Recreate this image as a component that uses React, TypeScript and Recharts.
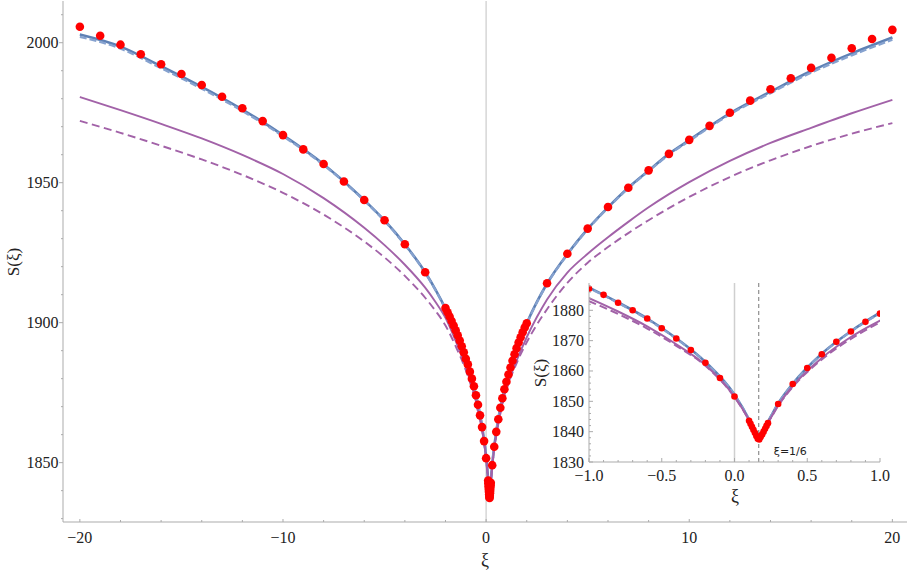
import React from "react"
import { ComposedChart, Line, Scatter, XAxis, YAxis, ReferenceLine } from "recharts"

const curveXi = [
  -20, -18, -16, -14, -12, -10, -8, -6, -5, -4, -3, -2.5, -2, -1.5, -1, -0.8, -0.6, -0.4, -0.2, 0,
  0.1, 0.13, 1 / 6, 0.2, 0.25, 0.3, 0.4, 0.6, 0.8, 1, 1.5, 2, 2.5, 3, 4, 5, 6, 7, 8, 9, 10, 12, 14, 16, 18, 20,
]
const blueSolid = [
  2002.9, 1998.6, 1991.6, 1984.2, 1976.1, 1967.0, 1956.6, 1943.8, 1936.5, 1928.0, 1918.0, 1911.9, 1905.0, 1897.0, 1887.5, 1882.6, 1877.3, 1870.8, 1863.0, 1852.2,
  1844.0, 1841.0, 1837.8, 1840.6, 1845.0, 1849.3, 1855.8, 1865.7, 1873.1, 1879.2, 1890.9, 1899.8, 1907.4, 1914.0, 1924.5, 1933.5, 1941.2, 1948.2, 1954.3, 1960.3, 1965.2, 1974.8, 1982.5, 1989.9, 1996.2, 2001.9,
]
const blueDashed = [
  2002.1, 1997.9, 1990.9, 1983.6, 1975.6, 1966.6, 1956.3, 1943.6, 1936.3, 1927.8, 1917.8, 1911.7, 1904.8, 1896.8, 1887.3, 1882.4, 1877.1, 1870.6, 1862.9, 1852.1,
  1844.0, 1841.0, 1837.8, 1840.6, 1845.0, 1849.2, 1855.7, 1865.6, 1873.0, 1879.0, 1890.7, 1899.6, 1907.2, 1913.8, 1924.3, 1933.3, 1941.0, 1948.0, 1954.1, 1960.0, 1964.9, 1974.4, 1982.0, 1989.3, 1995.5, 2001.1,
]
const purpleSolid = [
  1980.6, 1975.9, 1971.0, 1965.8, 1959.9, 1953.1, 1944.5, 1933.9, 1927.7, 1920.7, 1912.5, 1907.5, 1901.7, 1893.5, 1884.0, 1879.6, 1874.7, 1868.8, 1862.0, 1851.5,
  1843.8, 1841.1, 1838.0, 1840.8, 1844.6, 1848.7, 1855.0, 1864.3, 1871.2, 1876.6, 1886.4, 1894.8, 1902.0, 1908.3, 1917.9, 1924.6, 1930.5, 1936.0, 1941.2, 1945.9, 1950.2, 1957.8, 1964.2, 1969.6, 1974.8, 1979.6,
]
const purpleDashed = [
  1972.1, 1967.8, 1963.2, 1958.3, 1952.8, 1946.4, 1938.6, 1929.0, 1923.3, 1916.7, 1908.9, 1904.3, 1899.0, 1891.6, 1883.0, 1878.8, 1874.0, 1868.3, 1861.7, 1851.4,
  1843.8, 1841.1, 1838.0, 1840.8, 1844.5, 1848.5, 1854.7, 1863.8, 1870.6, 1876.0, 1885.5, 1893.0, 1899.3, 1904.8, 1914.2, 1921.4, 1927.0, 1932.0, 1936.6, 1940.9, 1944.9, 1952.0, 1958.0, 1963.1, 1967.5, 1971.3,
]

// simulation points (red dots)
const dotXi = [
  -20, -19, -18, -17, -16, -15, -14, -13, -12, -11, -10, -9, -8, -7, -6, -5, -4, -3,
  -2, -1.9, -1.8, -1.7, -1.6, -1.5, -1.4, -1.3, -1.2, -1.1, -1, -0.9, -0.8, -0.7, -0.6, -0.5, -0.4, -0.3, -0.2, -0.1, 0,
  0.1, 0.11, 0.12, 0.13, 0.14, 0.15, 0.16, 0.17, 0.18, 0.19, 0.2, 0.21, 0.22, 0.23,
  0.3, 0.4, 0.5, 0.6, 0.7, 0.8, 0.9, 1, 1.1, 1.2, 1.3, 1.4, 1.5, 1.6, 1.7, 1.8, 1.9, 2,
  3, 4, 5, 6, 7, 8, 9, 10, 11, 12, 13, 14, 15, 16, 17, 18, 19, 20,
]
const dotS = [
  2005.7, 2002.5, 1999.3, 1995.9, 1992.3, 1988.8, 1984.9, 1980.7, 1976.6, 1972.0, 1967.0, 1961.9, 1956.7, 1950.4, 1943.8, 1936.6, 1928.0, 1918.0,
  1905.2, 1903.7, 1902.2, 1900.6, 1899.0, 1897.3, 1895.5, 1893.6, 1891.6, 1889.4, 1887.1, 1885.1, 1882.5, 1880.0, 1877.3, 1874.1, 1870.7, 1866.9, 1862.7, 1857.7, 1851.6,
  1843.6, 1842.6, 1841.6, 1840.6, 1839.6, 1838.6, 1837.7, 1837.4, 1838.2, 1839.1, 1840.0, 1841.0, 1841.9, 1842.8,
  1849.1, 1855.7, 1861.0, 1865.5, 1869.6, 1873.0, 1876.2, 1878.9, 1881.5, 1884.0, 1886.4, 1888.7, 1890.9, 1892.9, 1894.8, 1896.6, 1898.3, 1899.8,
  1914.1, 1924.6, 1933.6, 1941.3, 1948.2, 1954.4, 1960.3, 1965.3, 1970.3, 1975.0, 1979.3, 1983.4, 1987.3, 1991.0, 1994.6, 1998.0, 2001.3, 2004.6,
]

// tick positions
const mainXTicks = [-20, -18, -16, -14, -12, -10, -8, -6, -4, -2, 0, 2, 4, 6, 8, 10, 12, 14, 16, 18, 20]
const mainYTicks = [1830, 1840, 1850, 1860, 1870, 1880, 1890, 1900, 1910, 1920, 1930, 1940, 1950, 1960, 1970, 1980, 1990, 2000, 2010]
const insetXTicks = [-1, -0.9, -0.8, -0.7, -0.6, -0.5, -0.4, -0.3, -0.2, -0.1, 0, 0.1, 0.2, 0.3, 0.4, 0.5, 0.6, 0.7, 0.8, 0.9, 1]
const insetYTicks = [1830, 1832, 1834, 1836, 1838, 1840, 1842, 1844, 1846, 1848, 1850, 1852, 1854, 1856, 1858, 1860, 1862, 1864, 1866, 1868, 1870, 1872, 1874, 1876, 1878, 1880, 1882, 1884, 1886, 1888]

const zip = (xs: number[], ys: number[]) => xs.map((x, i) => ({ x, y: ys[i] }))
const blueSolidPts = zip(curveXi, blueSolid)
const blueDashedPts = zip(curveXi, blueDashed)
const purpleSolidPts = zip(curveXi, purpleSolid)
const purpleDashedPts = zip(curveXi, purpleDashed)
const dots = zip(dotXi, dotS)
const insetDots = dots.filter((d) => Math.abs(d.x) <= 1.0001)

const BLUE = "#5e81b5"
const BLUE_LIGHT = "#86a2cf"
const PURPLE = "#a262a8"
const RED = "#ff0000"
const FRAME = "#ababab"
const INK = "#222"
const serif = { fontFamily: "'Liberation Serif', 'DejaVu Serif', 'Times New Roman', serif" }

const neg = (s: string) => s.replace("-", "\u2212")
const near = (a: number, b: number) => Math.abs(a - b) < 1e-6

const mainBottomTick = (p: any) => {
  const v = p.payload.value
  const major = near(v % 10, 0)
  return (
    <g>
      <line x1={p.x} x2={p.x} y1={p.y} y2={p.y - (major ? 3 : 2)} stroke={FRAME} />
      {major && (
        <text x={p.x} y={p.y + 21} textAnchor="middle" style={serif} fontSize={16} fill={INK}>
          {neg(String(v))}
        </text>
      )}
    </g>
  )
}
const mainTopTick = (p: any) => <line x1={p.x} x2={p.x} y1={p.y} y2={p.y + 3} stroke={FRAME} />
const mainLeftTick = (p: any) => {
  const v = p.payload.value
  const major = v % 50 === 0
  return (
    <g>
      <line x1={p.x - (major ? 4 : 2)} x2={p.x} y1={p.y} y2={p.y} stroke={FRAME} />
      {major && (
        <text x={p.x - 4.5} y={p.y + 5.5} textAnchor="end" style={serif} fontSize={16} fill={INK}>
          {v}
        </text>
      )}
    </g>
  )
}
const mainRightTick = (p: any) => <line x1={p.x} x2={p.x + 3} y1={p.y} y2={p.y} stroke={FRAME} />

const insetBottomTick = (p: any) => {
  const v = p.payload.value
  const major = near(v * 2, Math.round(v * 2))
  return (
    <g>
      <line x1={p.x} x2={p.x} y1={p.y} y2={p.y - (major ? 4 : 2)} stroke={FRAME} />
      {major && (
        <text x={p.x} y={p.y + 19} textAnchor="middle" style={serif} fontSize={16} fill={INK}>
          {neg(v.toFixed(1))}
        </text>
      )}
    </g>
  )
}
const insetTopTick = (p: any) => {
  const major = near(p.payload.value * 2, Math.round(p.payload.value * 2))
  return <line x1={p.x} x2={p.x} y1={p.y} y2={p.y + (major ? 4 : 2)} stroke={FRAME} />
}
const insetLeftTick = (p: any) => {
  const v = p.payload.value
  const major = v % 10 === 0
  return (
    <g>
      <line x1={p.x} x2={p.x + (major ? 4 : 2)} y1={p.y} y2={p.y} stroke={FRAME} />
      {major && (
        <text x={p.x - 5} y={p.y + 5.5} textAnchor="end" style={serif} fontSize={16} fill={INK}>
          {v}
        </text>
      )}
    </g>
  )
}
const insetRightTick = (p: any) => {
  const major = p.payload.value % 10 === 0
  return <line x1={p.x} x2={p.x - (major ? 4 : 2)} y1={p.y} y2={p.y} stroke={FRAME} />
}

const dotShape = (r: number) => (p: any) => <circle cx={p.cx} cy={p.cy} r={r} fill={RED} />

function MainPlot() {
  return (
    <ComposedChart width={910} height={573} margin={{ top: 1, right: 3, bottom: 0, left: 0 }}>
      <XAxis
        dataKey="x"
        type="number"
        domain={[-20.83, 20.72]}
        allowDataOverflow
        ticks={mainXTicks}
        interval={0}
        height={51}
        tickSize={0}
        tickMargin={0}
        tickLine={false}
        axisLine={{ stroke: FRAME }}
        tick={mainBottomTick}
        label={{
          content: () => (
            <text x={485} y={566} textAnchor="middle" style={serif} fontSize={18} fill={INK}>
              ξ
            </text>
          ),
        }}
      />
      <XAxis
        xAxisId="top"
        orientation="top"
        type="number"
        domain={[-20.83, 20.72]}
        allowDataOverflow
        ticks={mainXTicks}
        interval={0}
        height={0}
        tickSize={0}
        tickMargin={0}
        tickLine={false}
        axisLine={{ stroke: FRAME }}
        tick={mainTopTick}
      />
      <YAxis
        dataKey="y"
        type="number"
        domain={[1828.8, 2014.9]}
        allowDataOverflow
        ticks={mainYTicks}
        interval={0}
        width={63}
        tickSize={0}
        tickMargin={0}
        tickLine={false}
        axisLine={{ stroke: FRAME }}
        tick={mainLeftTick}
        label={{
          content: () => (
            <text
              x={13}
              y={262}
              textAnchor="middle"
              dominantBaseline="central"
              transform="rotate(-90 13 262)"
              style={serif}
              fontSize={17}
              fill={INK}
            >
              S(ξ)
            </text>
          ),
        }}
      />
      <YAxis
        yAxisId="right"
        orientation="right"
        type="number"
        domain={[1828.8, 2014.9]}
        allowDataOverflow
        ticks={mainYTicks}
        interval={0}
        width={0}
        tickSize={0}
        tickMargin={0}
        tickLine={false}
        axisLine={{ stroke: FRAME }}
        tick={mainRightTick}
      />
      <ReferenceLine x={0} stroke="#d6d6d6" strokeWidth={1.5} />
      <Scatter data={dots} dataKey="y" shape={dotShape(4.3)} isAnimationActive={false} />
      <Line data={blueSolidPts} dataKey="y" type="monotone" stroke={BLUE} strokeWidth={2.6} dot={false} isAnimationActive={false} />
      <Line data={blueDashedPts} dataKey="y" type="monotone" stroke={BLUE_LIGHT} strokeWidth={2.3} strokeDasharray="7 3" dot={false} isAnimationActive={false} />
      <Line data={purpleSolidPts} dataKey="y" type="monotone" stroke={PURPLE} strokeWidth={1.9} dot={false} isAnimationActive={false} />
      <Line data={purpleDashedPts} dataKey="y" type="monotone" stroke={PURPLE} strokeWidth={1.9} strokeDasharray="8 4.5" dot={false} isAnimationActive={false} />
    </ComposedChart>
  )
}

function InsetPlot() {
  return (
    <ComposedChart width={385} height={240} margin={{ top: 13, right: 30, bottom: 0, left: 0 }}>
      <XAxis
        dataKey="x"
        type="number"
        domain={[-1, 1]}
        allowDataOverflow
        ticks={insetXTicks}
        interval={0}
        height={48}
        tickSize={0}
        tickMargin={0}
        tickLine={false}
        axisLine={{ stroke: FRAME }}
        tick={insetBottomTick}
        label={{
          content: () => (
            <text x={210} y={232} textAnchor="middle" style={serif} fontSize={18} fill={INK}>
              ξ
            </text>
          ),
        }}
      />
      <XAxis
        xAxisId="top"
        orientation="top"
        type="number"
        domain={[-1, 1]}
        allowDataOverflow
        ticks={insetXTicks}
        interval={0}
        height={0}
        tickSize={0}
        tickMargin={0}
        tickLine={false}
        axisLine={{ stroke: FRAME }}
        tick={insetTopTick}
      />
      <YAxis
        dataKey="y"
        type="number"
        domain={[1830, 1889]}
        allowDataOverflow
        ticks={insetYTicks}
        interval={0}
        width={64}
        tickSize={0}
        tickMargin={0}
        tickLine={false}
        axisLine={{ stroke: FRAME }}
        tick={insetLeftTick}
        label={{
          content: () => (
            <text
              x={15}
              y={103}
              textAnchor="middle"
              dominantBaseline="central"
              transform="rotate(-90 15 103)"
              style={serif}
              fontSize={17}
              fill={INK}
            >
              S(ξ)
            </text>
          ),
        }}
      />
      <YAxis
        yAxisId="right"
        orientation="right"
        type="number"
        domain={[1830, 1889]}
        allowDataOverflow
        ticks={insetYTicks}
        interval={0}
        width={0}
        tickSize={0}
        tickMargin={0}
        tickLine={false}
        axisLine={{ stroke: FRAME }}
        tick={insetRightTick}
      />
      <ReferenceLine x={0} stroke="#cfcfcf" strokeWidth={1.5} />
      <ReferenceLine
        x={1 / 6}
        stroke="#777"
        strokeWidth={1}
        strokeDasharray="4 3"
        label={{
          content: (lp: any) => {
            const vb = lp.viewBox || {}
            return (
              <text
                x={(vb.x ?? 0) + 15}
                y={(vb.y ?? 0) + (vb.height ?? 0) - 7}
                style={{ fontFamily: "'DejaVu Sans', sans-serif" }}
                fontSize={11}
                fill={INK}
              >
                ξ=1/6
              </text>
            )
          },
        }}
      />
      <Line data={blueSolidPts} dataKey="y" type="monotone" stroke={BLUE} strokeWidth={2.6} dot={false} isAnimationActive={false} />
      <Line data={blueDashedPts} dataKey="y" type="monotone" stroke={BLUE_LIGHT} strokeWidth={2.2} strokeDasharray="7 3" dot={false} isAnimationActive={false} />
      <Line data={purpleSolidPts} dataKey="y" type="monotone" stroke={PURPLE} strokeWidth={2} dot={false} isAnimationActive={false} />
      <Line data={purpleDashedPts} dataKey="y" type="monotone" stroke={PURPLE} strokeWidth={2} strokeDasharray="8 4" dot={false} isAnimationActive={false} />
      <Scatter data={insetDots} dataKey="y" shape={dotShape(3.3)} isAnimationActive={false} />
    </ComposedChart>
  )
}

export default function App() {
  return (
    <div style={{ position: "absolute", left: 0, top: 0, width: 910, height: 573, background: "#fff" }}>
      <MainPlot />
      <div style={{ position: "absolute", left: 525, top: 270 }}>
        <InsetPlot />
      </div>
    </div>
  )
}
